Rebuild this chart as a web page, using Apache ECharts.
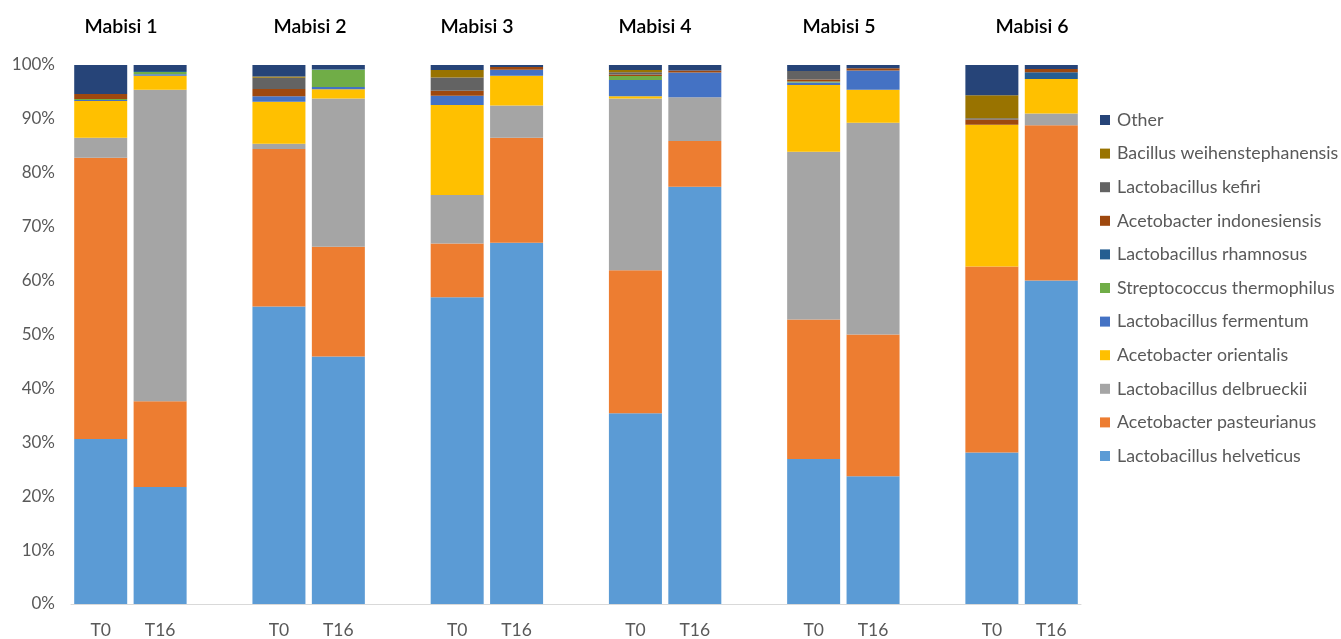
<!DOCTYPE html>
<html>
<head>
<meta charset="utf-8">
<script src="https://cdn.jsdelivr.net/npm/echarts@6/dist/echarts.min.js"></script>
<style>
  html, body { margin: 0; padding: 0; background: #ffffff; }
  #chart { width: 1341px; height: 639px; }
</style>
</head>
<body>
<div id="chart"></div>
<script>
// Relative abundance (%) per sample: Mabisi 1..6, each at T0 and T16
const groups = ['Mabisi 1', 'Mabisi 2', 'Mabisi 3', 'Mabisi 4', 'Mabisi 5', 'Mabisi 6'];
const timepoints = ['T0', 'T16'];
const yTicks = [0, 10, 20, 30, 40, 50, 60, 70, 80, 90, 100];

//                      M1 T0, T16  M2 T0, T16  M3 T0, T16  M4 T0, T16  M5 T0, T16  M6 T0, T16
const lHelveticus    = [30.6, 21.7, 55.2, 45.9, 56.9, 67.0, 35.4, 77.4, 26.9, 23.7, 28.1, 60.0];
const aPasteurianus  = [52.2, 15.9, 29.2, 20.4, 10.0, 19.5, 26.5,  8.5, 25.9, 26.3, 34.5, 28.8];
const lDelbrueckii   = [ 3.7, 57.8,  1.0, 27.5,  9.0,  6.0, 31.9,  8.1, 31.1, 39.3,  0.0,  2.2];
const aOrientalis    = [ 6.8,  2.6,  7.8,  1.7, 16.7,  5.5,  0.4,  0.0, 12.4,  6.1, 26.3,  6.4];
const lFermentum     = [ 0.2,  0.3,  1.0,  0.4,  1.7,  1.1,  3.0,  4.6, 0.45,  3.6,  0.0,  0.0];
const sThermophilus  = [ 0.2,  0.4,  0.0,  3.2,  0.0,  0.0, 0.75,  0.0,  0.2,  0.0,  0.0,  0.0];
const lRhamnosus     = [ 0.0,  0.2,  0.0,  0.1,  0.0,  0.0,  0.0,  0.0,  0.0,  0.0,  0.0, 1.25];
const aIndonesiensis = [ 0.9,  0.0, 1.35,  0.0,  0.9, 0.55,  0.3,  0.4, 0.35,  0.4,  1.0,  0.6];
const lKefiri        = [ 0.0,  0.0,  2.1,  0.0,  2.5,  0.0,  0.4,  0.0,  1.6,  0.0,  0.2,  0.0];
const bWeihen        = [ 0.0,  0.0,  0.2,  0.0, 1.35,  0.0,  0.4,  0.0,  0.0,  0.0,  4.3,  0.0];
const other          = [ 5.4,  1.1, 2.15,  0.8, 0.95, 0.35, 0.95,  1.0,  1.1,  0.6,  5.6, 0.75];

const taxa = [
  { name: 'Lactobacillus helveticus',     color: '#5B9BD5', values: lHelveticus },
  { name: 'Acetobacter pasteurianus',     color: '#ED7D31', values: aPasteurianus },
  { name: 'Lactobacillus delbrueckii',    color: '#A5A5A5', values: lDelbrueckii },
  { name: 'Acetobacter orientalis',       color: '#FFC000', values: aOrientalis },
  { name: 'Lactobacillus fermentum',      color: '#4472C4', values: lFermentum },
  { name: 'Streptococcus thermophilus',   color: '#70AD47', values: sThermophilus },
  { name: 'Lactobacillus rhamnosus',      color: '#255E91', values: lRhamnosus },
  { name: 'Acetobacter indonesiensis',    color: '#9E480E', values: aIndonesiensis },
  { name: 'Lactobacillus kefiri',         color: '#636363', values: lKefiri },
  { name: 'Bacillus weihenstephanensis',  color: '#997300', values: bWeihen },
  { name: 'Other',                        color: '#264478', values: other }
];

// Category slots: T0, T16 per group, with an empty spacer slot between groups
const categories = [];
const slotOfBar = [];
groups.forEach((g, gi) => {
  timepoints.forEach(t => { slotOfBar.push(categories.length); categories.push(t); });
  if (gi < groups.length - 1) categories.push('');
});

function toSlots(values) {
  const arr = categories.map(() => '-');
  values.forEach((v, i) => { arr[slotOfBar[i]] = v; });
  return arr;
}

const FONT = 'Lato, "Open Sans", sans-serif';
const titleCenters = [116, 305, 472, 650, 834, 1027];

const chart = echarts.init(document.getElementById('chart'), null, { renderer: 'canvas' });
chart.setOption({
  animation: false,
  backgroundColor: '#ffffff',
  title: groups.map((g, i) => ({
    text: g,
    left: titleCenters[i],
    top: 12,
    textAlign: 'center',
    textStyle: { fontFamily: FONT, fontSize: 19.5, fontWeight: 600, color: '#000000' }
  })),
  legend: {
    orient: 'vertical',
    left: 1095,
    top: 105,
    itemWidth: 10,
    itemHeight: 10,
    itemGap: 13.6,
    icon: 'rect',
    data: taxa.map(t => t.name).reverse(),
    textStyle: { fontFamily: FONT, fontSize: 17.8, color: '#595959', lineHeight: 20, padding: [0, 0, 0, 2] }
  },
  grid: { left: 71, right: 260, top: 65, bottom: 33, containLabel: false },
  xAxis: {
    type: 'category',
    data: categories,
    axisLine: { show: true, lineStyle: { color: '#D9D9D9', width: 1 } },
    axisTick: { show: false },
    axisLabel: { fontFamily: FONT, fontSize: 17.5, color: '#595959', margin: 17, interval: 0 }
  },
  yAxis: {
    type: 'value',
    min: yTicks[0],
    max: yTicks[yTicks.length - 1],
    interval: yTicks[1] - yTicks[0],
    splitLine: { show: false },
    axisLine: { show: false },
    axisTick: { show: false },
    axisLabel: { fontFamily: FONT, fontSize: 17, color: '#595959', margin: 16, formatter: '{value}%' }
  },
  series: taxa.map(t => ({
    name: t.name,
    type: 'bar',
    stack: 'total',
    barWidth: 53,
    itemStyle: { color: t.color },
    emphasis: { disabled: true },
    data: toSlots(t.values)
  }))
});
</script>
</body>
</html>
